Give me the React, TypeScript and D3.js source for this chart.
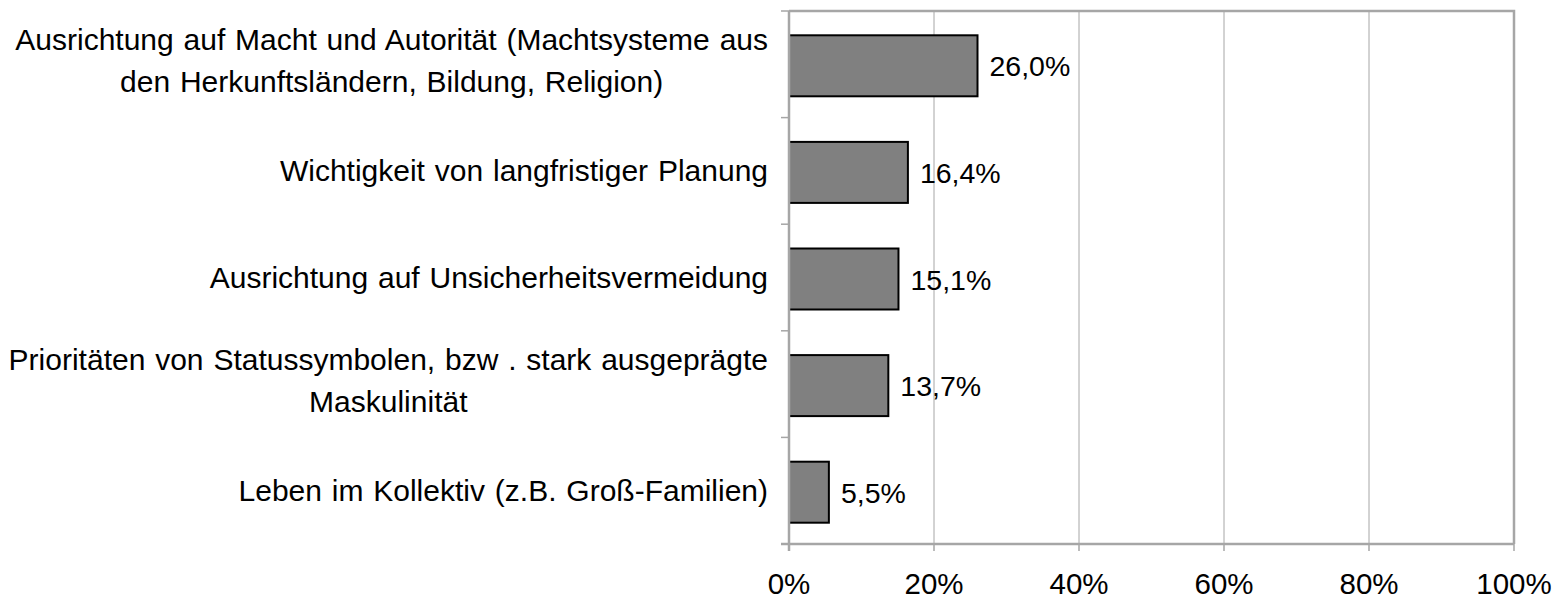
import React, { useEffect, useRef } from "react";
import * as d3 from "d3";

const categories: string[][] = [
  ["Ausrichtung auf Macht und Autorität (Machtsysteme aus", "den Herkunftsländern, Bildung, Religion)"],
  ["Wichtigkeit von langfristiger Planung"],
  ["Ausrichtung auf Unsicherheitsvermeidung"],
  ["Prioritäten von Statussymbolen, bzw . stark ausgeprägte", "Maskulinität"],
  ["Leben im Kollektiv (z.B. Groß-Familien)"],
];
const values: number[] = [26.0, 16.4, 15.1, 13.7, 5.5];
const xTicks: number[] = [0, 20, 40, 60, 80, 100];

const W = 1558;
const H = 601;
const M = { left: 789, right: 1514, top: 11, bottom: 544 };
const FONT = "'Liberation Sans', Arial, Helvetica, sans-serif";

export default function App() {
  const ref = useRef<SVGSVGElement | null>(null);

  useEffect(() => {
    const svg = d3.select(ref.current);
    svg.selectAll("*").remove();

    const x = d3.scaleLinear().domain([0, 100]).range([M.left, M.right]);
    const y = d3
      .scaleBand<number>()
      .domain(d3.range(categories.length))
      .range([M.top, M.bottom])
      .paddingInner(0)
      .paddingOuter(0);
    const step = y.step();
    const barH = 61;
    const grey = "#a6a6a6";

    // gridlines
    svg
      .append("g")
      .selectAll("line")
      .data(xTicks.filter((t) => t > 0 && t < 100))
      .join("line")
      .attr("x1", (d) => x(d))
      .attr("x2", (d) => x(d))
      .attr("y1", M.top)
      .attr("y2", M.bottom)
      .attr("stroke", grey)
      .attr("stroke-width", 1);

    // frame top/right
    svg
      .append("path")
      .attr("d", `M${M.left},${M.top}H${M.right}V${M.bottom}`)
      .attr("fill", "none")
      .attr("stroke", grey)
      .attr("stroke-width", 2.5);

    // bars
    svg
      .append("g")
      .selectAll("rect")
      .data(values)
      .join("rect")
      .attr("x", x(0))
      .attr("y", (_, i) => (y(i) as number) + step / 2 - barH / 2 + 1.5)
      .attr("width", (d) => x(d) - x(0))
      .attr("height", barH)
      .attr("fill", "#808080")
      .attr("stroke", "#000")
      .attr("stroke-width", 2);

    // value labels
    svg
      .append("g")
      .selectAll("text")
      .data(values)
      .join("text")
      .attr("x", (d) => x(d) + 12)
      .attr("y", (_, i) => (y(i) as number) + step / 2 + 12)
      .attr("font-family", FONT)
      .attr("font-size", 28.5)
      .attr("fill", "#000")
      .text((d) => d.toFixed(1).replace(".", ",") + "%");

    // left axis
    const yTickPos = d3.range(categories.length + 1).map((i) => M.top + i * step);
    svg
      .append("line")
      .attr("x1", M.left)
      .attr("x2", M.left)
      .attr("y1", M.top)
      .attr("y2", M.bottom + 7)
      .attr("stroke", grey)
      .attr("stroke-width", 2.5);
    svg
      .append("g")
      .selectAll("line")
      .data(yTickPos)
      .join("line")
      .attr("x1", M.left - 8)
      .attr("x2", M.left)
      .attr("y1", (d) => d)
      .attr("y2", (d) => d)
      .attr("stroke", grey)
      .attr("stroke-width", 1.5);

    // bottom axis
    svg
      .append("line")
      .attr("x1", M.left - 8)
      .attr("x2", M.right)
      .attr("y1", M.bottom)
      .attr("y2", M.bottom)
      .attr("stroke", grey)
      .attr("stroke-width", 2.5);
    svg
      .append("g")
      .selectAll("line")
      .data(xTicks)
      .join("line")
      .attr("x1", (d) => x(d))
      .attr("x2", (d) => x(d))
      .attr("y1", M.bottom)
      .attr("y2", M.bottom + 7)
      .attr("stroke", grey)
      .attr("stroke-width", 1.5);
    svg
      .append("g")
      .selectAll("text")
      .data(xTicks)
      .join("text")
      .attr("x", (d) => x(d))
      .attr("y", 594)
      .attr("text-anchor", "middle")
      .attr("font-family", FONT)
      .attr("font-size", 29.5)
      .attr("fill", "#000")
      .text((d) => d + "%");

    // category labels (centered block, right-aligned)
    const rightEdge = 768;
    categories.forEach((lines, i) => {
      const c = (y(i) as number) + step / 2;
      const g = svg.append("g");
      const baselines = lines.length === 1 ? [c + 10.5] : [c - 14.5, c + 27.5];
      const texts = lines.map((ln, j) =>
        g
          .append("text")
          .attr("y", baselines[j])
          .attr("font-family", FONT)
          .attr("font-size", 30)
          .attr("word-spacing", 1.5)
          .attr("fill", "#000")
          .text(ln)
      );
      const widths = texts.map((t) => (t.node() as SVGTextElement).getComputedTextLength());
      const maxW = Math.max(...widths);
      texts.forEach((t) => t.attr("x", rightEdge - maxW / 2).attr("text-anchor", "middle"));
    });
  }, []);

  return (
    <svg
      ref={ref}
      width={W}
      height={H}
      style={{ position: "absolute", left: 0, top: 0, background: "#fff" }}
    />
  );
}
